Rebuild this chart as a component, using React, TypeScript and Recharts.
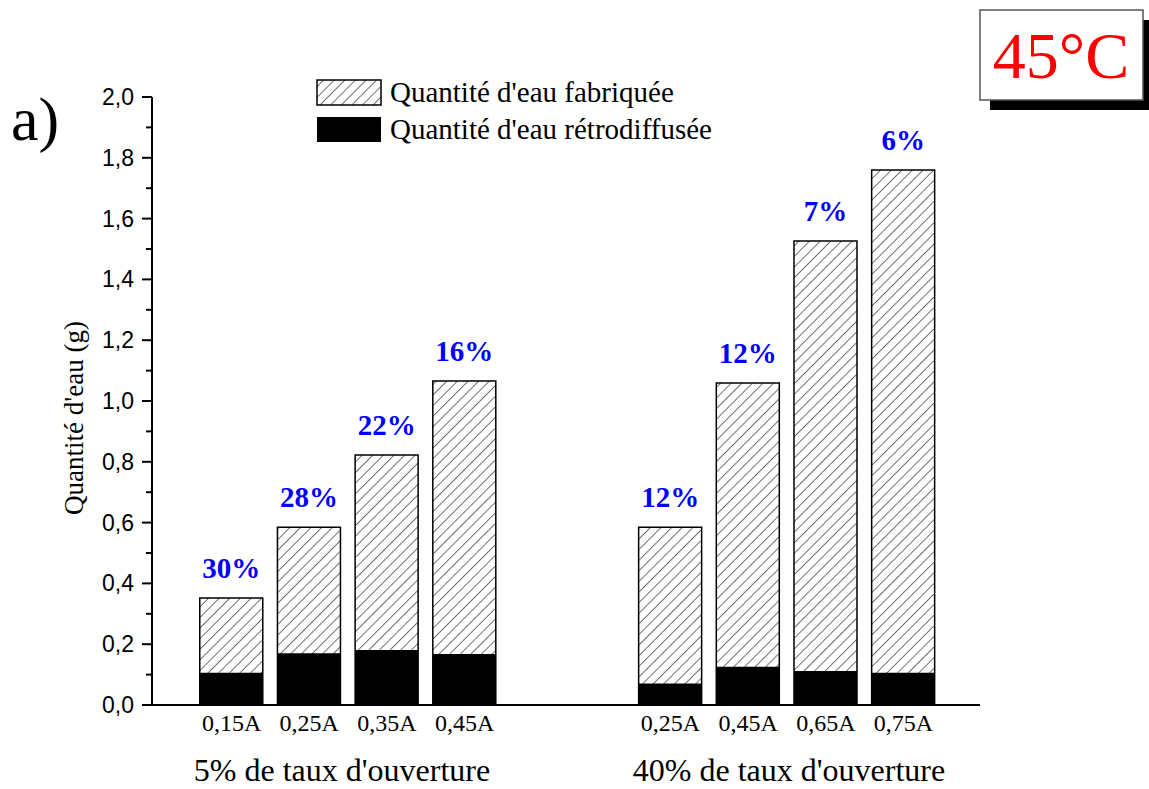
import { BarChart, Bar, XAxis, YAxis, LabelList } from "recharts";

// valeurs (45°C)
const courants = ["0,15A", "0,25A", "0,35A", "0,45A", "0,25A", "0,45A", "0,65A", "0,75A"];
const positions = [1, 2, 3, 4, 6.65, 7.65, 8.65, 9.65];
const eauFabriquee = [0.352, 0.585, 0.822, 1.066, 0.585, 1.059, 1.526, 1.76];
const eauRetrodiffusee = [0.106, 0.17, 0.181, 0.168, 0.071, 0.126, 0.112, 0.106];
const pourcentages = ["30%", "28%", "22%", "16%", "12%", "12%", "7%", "6%"];
const yTicks = [0, 0.1, 0.2, 0.3, 0.4, 0.5, 0.6, 0.7, 0.8, 0.9, 1.0, 1.1, 1.2, 1.3, 1.4, 1.5, 1.6, 1.7, 1.8, 1.9, 2.0];
const yMajors = [0, 0.2, 0.4, 0.6, 0.8, 1.0, 1.2, 1.4, 1.6, 1.8, 2.0];
const groupes = ["5% de taux d'ouverture", "40% de taux d'ouverture"];

const data = courants.map((c, i) => ({
  pos: positions[i],
  courant: c,
  fab: eauFabriquee[i],
  retro: eauRetrodiffusee[i],
  pct: pourcentages[i],
}));

const SERIF = "'Liberation Serif', 'Times New Roman', serif";
const SANS = "'Liberation Sans', Arial, sans-serif";
const BAR = 63;

function YTick(props: any) {
  const { x, y, payload } = props;
  const v = payload.value;
  const major = yMajors.some(m => Math.abs(m - v) < 1e-6);
  return (
    <g>
      <line x1={x - (major ? 10 : 6)} x2={x} y1={y} y2={y} stroke="#000" strokeWidth={2} />
      {major && (
        <text x={x - 18} y={y + 8} textAnchor="end" fontFamily={SANS} fontSize={23} fill="#000">
          {v.toFixed(1).replace(".", ",")}
        </text>
      )}
    </g>
  );
}

function XTick(props: any) {
  const { x, y, payload } = props;
  const i = positions.indexOf(payload.value);
  return (
    <text x={x} y={y + 26} textAnchor="middle" fontFamily={SERIF} fontSize={24} fill="#000">
      {courants[i]}
    </text>
  );
}

function PctLabel(props: any) {
  const { x, y, width, value } = props;
  return (
    <text
      x={x + width / 2}
      y={y - 20}
      textAnchor="middle"
      fontFamily={SERIF}
      fontWeight="bold"
      fontSize={29}
      fill="#0000ff"
    >
      {value}
    </text>
  );
}

function Hachures({ id }: { id: string }) {
  return (
    <pattern id={id} patternUnits="userSpaceOnUse" width={7.5} height={10} patternTransform="rotate(45)">
      <line x1={0} y1={0} x2={0} y2={10} stroke="#000" strokeWidth={1.1} />
    </pattern>
  );
}

export default function App() {
  return (
    <div style={{ position: "absolute", left: 0, top: 0, width: 1149, height: 789, background: "#fff" }}>
      <BarChart
        width={1149}
        height={789}
        data={data}
        margin={{ top: 97, right: 169, bottom: 0, left: 0 }}
        barGap={-BAR}
      >
        <defs>
          <Hachures id="hachures" />
        </defs>
        <XAxis
          dataKey="pos"
          type="number"
          domain={[-0.025, 10.635]}
          ticks={positions}
          interval={0}
          height={84}
          tickSize={0}
          tickMargin={0}
          tickLine={false}
          axisLine={{ stroke: "#000", strokeWidth: 2 }}
          tick={<XTick />}
        />
        <YAxis
          type="number"
          domain={[0, 2]}
          ticks={yTicks}
          interval={0}
          width={152}
          tickSize={0}
          tickMargin={0}
          tickLine={false}
          axisLine={{ stroke: "#000", strokeWidth: 2 }}
          tick={<YTick />}
        />
        <Bar
          dataKey="fab"
          fill="url(#hachures)"
          stroke="#000"
          strokeWidth={1.5}
          barSize={BAR}
          isAnimationActive={false}
        >
          <LabelList dataKey="pct" content={<PctLabel />} />
        </Bar>
        <Bar dataKey="retro" fill="#000" barSize={BAR} isAnimationActive={false} />
      </BarChart>

      <svg
        width={1149}
        height={789}
        style={{ position: "absolute", left: 0, top: 0, pointerEvents: "none" }}
      >
        <defs>
          <Hachures id="hachuresLegende" />
        </defs>
        {/* titre de l'axe y */}
        <text
          transform="translate(83 418) rotate(-90)"
          textAnchor="middle"
          fontFamily={SERIF}
          fontSize={27}
          fill="#000"
        >
          Quantité d'eau (g)
        </text>

        {/* groupes */}
        <text x={342} y={781} textAnchor="middle" fontFamily={SERIF} fontSize={32} fill="#000">
          {groupes[0]}
        </text>
        <text x={789} y={781} textAnchor="middle" fontFamily={SERIF} fontSize={32} fill="#000">
          {groupes[1]}
        </text>

        {/* légende */}
        <rect x={317} y={80} width={64} height={25} fill="url(#hachuresLegende)" stroke="#000" strokeWidth={1.5} />
        <text x={390} y={102} fontFamily={SERIF} fontSize={29} fill="#000">
          Quantité d'eau fabriquée
        </text>
        <rect x={317} y={117} width={64} height={25} fill="#000" />
        <text x={390} y={139} fontFamily={SERIF} fontSize={29} fill="#000">
          Quantité d'eau rétrodiffusée
        </text>

        {/* a) */}
        <text x={11} y={140} fontFamily={SERIF} fontSize={62} fill="#000">
          a)
        </text>

        {/* 45°C */}
        <rect x={990} y={20} width={163} height={90} fill="#000" />
        <rect x={980} y={10} width={163} height={90} fill="#fff" stroke="#555" strokeWidth={1.5} />
        <text x={1061} y={78} textAnchor="middle" fontFamily={SERIF} fontSize={66} fill="#ff0000">
          45°C
        </text>
      </svg>
    </div>
  );
}
